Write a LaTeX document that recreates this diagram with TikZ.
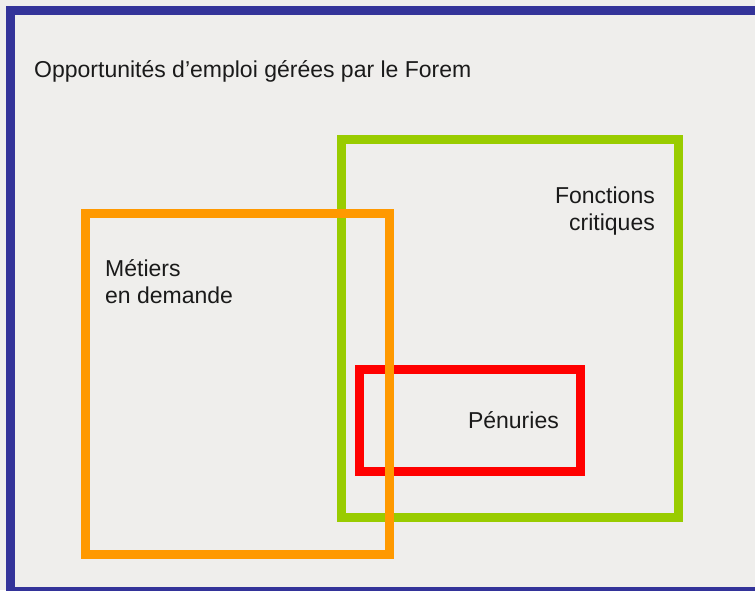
\documentclass[tikz,border=0pt]{standalone}
\usepackage{fontspec}
\setmainfont{Liberation Sans}
\definecolor{bg}{HTML}{EFEEEC}
\definecolor{frameblue}{HTML}{333399}
\definecolor{boxorange}{HTML}{FF9900}
\definecolor{boxgreen}{HTML}{99CC00}
\definecolor{boxred}{HTML}{FF0000}
\definecolor{ink}{HTML}{1A1A1A}
\begin{document}
\begin{tikzpicture}[x=1pt,y=-1pt,
  setbox/.style={line width=9pt},
  lbl/.style={inner sep=0pt,text=ink,font=\fontsize{23}{26.5}\selectfont}]
\useasboundingbox (0,0) rectangle (755,590);
\fill[bg] (0,0) rectangle (755,590);
\begin{scope}
\clip (0,0) rectangle (755,590);
\draw[setbox,frameblue] (10.5,10.5) rectangle (770,591.5);
\end{scope}
\draw[setbox,boxgreen] (341.5,139.5) rectangle (678.5,517.5);
\draw[setbox,boxred] (359.5,369.5) rectangle (580.5,471.5);
\draw[setbox,boxorange] (85.5,213.5) rectangle (389.5,554.5);
\node[lbl,anchor=base west] (title) at (34,77) {Opportunités d’emploi gérées par le Forem};
\node[lbl,anchor=base east,align=right] (fc) at (655,230) {Fonctions\\critiques};
\node[lbl,anchor=base west,align=left] (md) at (105,303) {Métiers\\en demande};
\node[lbl,anchor=base east] (pen) at (559,428) {Pénuries};
\end{tikzpicture}
\end{document}
